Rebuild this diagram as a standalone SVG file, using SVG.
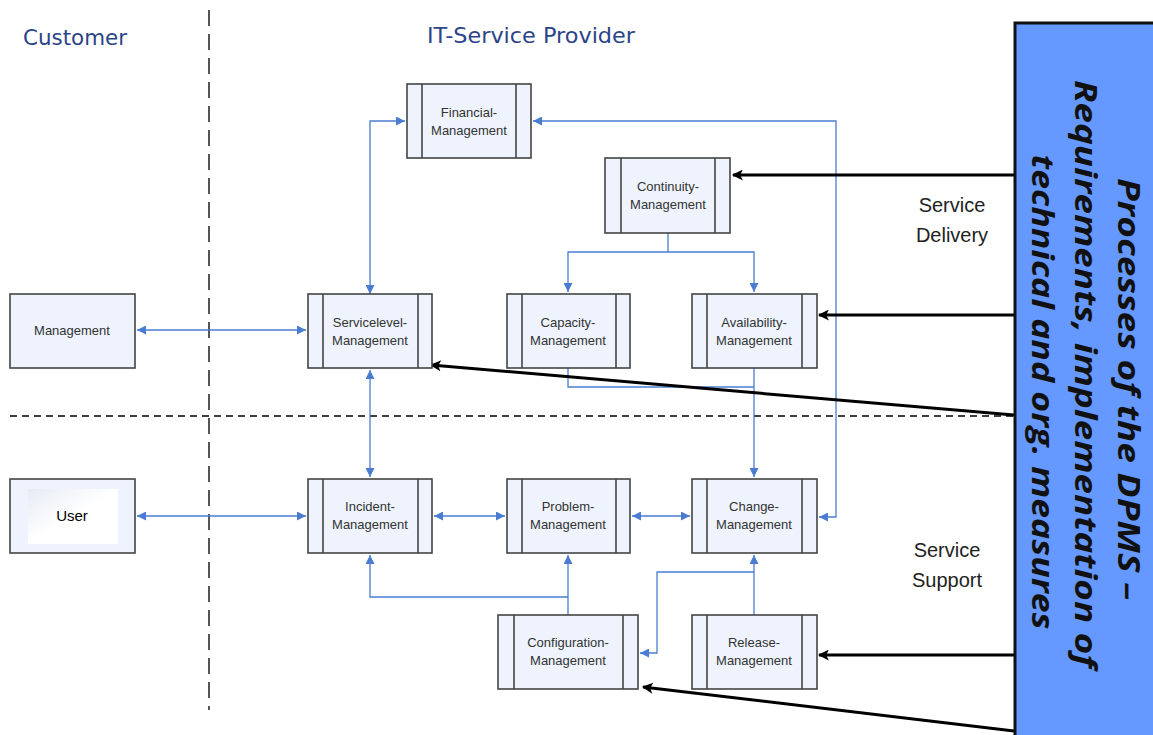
<svg xmlns="http://www.w3.org/2000/svg" width="1153" height="735" viewBox="0 0 1153 735">
  <defs>
    <marker id="blueArrow" viewBox="0 0 10 10" refX="10" refY="5" markerWidth="10" markerHeight="9" markerUnits="userSpaceOnUse" orient="auto-start-reverse">
      <path d="M0,0 L10,5 L0,10 z" fill="#4a7dd1"/>
    </marker>
    <marker id="blackArrow" viewBox="0 0 10 10" refX="9" refY="5" markerWidth="14" markerHeight="11" markerUnits="userSpaceOnUse" orient="auto">
      <path d="M0,0 L10,5 L0,10 L2.5,5 z" fill="#000"/>
    </marker>
    <linearGradient id="userFill" x1="0" y1="0" x2="1" y2="1">
      <stop offset="0" stop-color="#e6ebf4"/>
      <stop offset="0.5" stop-color="#ffffff"/>
      <stop offset="1" stop-color="#ffffff"/>
    </linearGradient>
  </defs>
  <style>
    .box { fill: #eef3fd; stroke: #444; stroke-width: 1.6; }
    .band { stroke: #444; stroke-width: 1.6; }
    .lbl { font-family: "Liberation Sans", Arial, sans-serif; font-size: 13px; fill: #333; text-anchor: middle; }
    .head { font-family: "DejaVu Sans", Verdana, sans-serif; font-size: 21px; fill: #2c4488; }
    .area { font-family: "Liberation Sans", Arial, sans-serif; font-size: 20px; fill: #222; text-anchor: middle; }
    .blue { fill: none; stroke: #4a7dd1; stroke-width: 1.3; }
    .black { fill: none; stroke: #000; stroke-width: 3; }
    .dpms { font-family: "Open Sans", "DejaVu Sans", sans-serif; font-size: 31px; font-weight: bold; font-style: italic; fill: #111; text-anchor: middle; }
  </style>

  <rect width="1153" height="735" fill="#ffffff"/>

  <!-- swimlane headings and separators -->
  <g id="lanes">
    <text class="head" x="23" y="45" textLength="104" lengthAdjust="spacingAndGlyphs">Customer</text>
    <text class="head" x="427" y="43" textLength="208" lengthAdjust="spacingAndGlyphs">IT-Service Provider</text>
    <line x1="209" y1="10" x2="209" y2="710" stroke="#555" stroke-width="2" stroke-dasharray="16 8"/>
    <line x1="10" y1="416" x2="1014" y2="416" stroke="#000" stroke-width="1.3" stroke-dasharray="7 5"/>
    <text class="area" x="952" y="212">Service</text>
    <text class="area" x="952" y="242">Delivery</text>
    <text class="area" x="947" y="557">Service</text>
    <text class="area" x="947" y="587">Support</text>
  </g>

  <!-- blue process connectors -->
  <g id="connectors">
    <path class="blue" d="M370,294 V121 H405" marker-start="url(#blueArrow)" marker-end="url(#blueArrow)"/>
    <path class="blue" d="M533,121 H836 V517 H819" marker-start="url(#blueArrow)" marker-end="url(#blueArrow)"/>
    <path class="blue" d="M668,233 V252"/>
    <path class="blue" d="M568,292 V252 H754 V292" marker-start="url(#blueArrow)" marker-end="url(#blueArrow)"/>
    <path class="blue" d="M568,368 V387 H754"/>
    <path class="blue" d="M754,368 V477" marker-end="url(#blueArrow)"/>
    <path class="blue" d="M137,330 H306" marker-start="url(#blueArrow)" marker-end="url(#blueArrow)"/>
    <path class="blue" d="M370,370 V477" marker-start="url(#blueArrow)" marker-end="url(#blueArrow)"/>
    <path class="blue" d="M137,516 H306" marker-start="url(#blueArrow)" marker-end="url(#blueArrow)"/>
    <path class="blue" d="M434,516 H505" marker-start="url(#blueArrow)" marker-end="url(#blueArrow)"/>
    <path class="blue" d="M632,516 H690" marker-start="url(#blueArrow)" marker-end="url(#blueArrow)"/>
    <path class="blue" d="M568,615 V555" marker-end="url(#blueArrow)"/>
    <path class="blue" d="M568,597 H370 V555" marker-end="url(#blueArrow)"/>
    <path class="blue" d="M754,615 V555" marker-end="url(#blueArrow)"/>
    <path class="blue" d="M754,572 H657 V653 H640" marker-end="url(#blueArrow)"/>
  </g>

  <!-- DPMS requirement arrows -->
  <g id="dpms-arrows">
    <path class="black" d="M1014,175 H733" marker-end="url(#blackArrow)"/>
    <path class="black" d="M1014,315 H819" marker-end="url(#blackArrow)"/>
    <path class="black" d="M1014,415 L431,365" marker-end="url(#blackArrow)"/>
    <path class="black" d="M1014,655 H819" marker-end="url(#blackArrow)"/>
    <path class="black" d="M1014,731 L643,687" marker-end="url(#blackArrow)"/>
  </g>

  <g id="financial">
    <rect class="box" x="407" y="84" width="124" height="74"/>
    <line class="band" x1="422" y1="84" x2="422" y2="158"/>
    <line class="band" x1="516" y1="84" x2="516" y2="158"/>
    <text class="lbl" x="469" y="117">Financial-</text>
    <text class="lbl" x="469" y="135">Management</text>
  </g>

  <g id="continuity">
    <rect class="box" x="605" y="158" width="125" height="75"/>
    <line class="band" x1="621" y1="158" x2="621" y2="233"/>
    <line class="band" x1="715" y1="158" x2="715" y2="233"/>
    <text class="lbl" x="668" y="191">Continuity-</text>
    <text class="lbl" x="668" y="209">Management</text>
  </g>

  <g id="management">
    <rect class="box" x="10" y="294" width="125" height="74"/>
    <text class="lbl" x="72" y="335">Management</text>
  </g>

  <g id="servicelevel">
    <rect class="box" x="308" y="294" width="124" height="74"/>
    <line class="band" x1="323" y1="294" x2="323" y2="368"/>
    <line class="band" x1="418" y1="294" x2="418" y2="368"/>
    <text class="lbl" x="370" y="327">Servicelevel-</text>
    <text class="lbl" x="370" y="345">Management</text>
  </g>

  <g id="capacity">
    <rect class="box" x="507" y="294" width="123" height="74"/>
    <line class="band" x1="522" y1="294" x2="522" y2="368"/>
    <line class="band" x1="616" y1="294" x2="616" y2="368"/>
    <text class="lbl" x="568" y="327">Capacity-</text>
    <text class="lbl" x="568" y="345">Management</text>
  </g>

  <g id="availability">
    <rect class="box" x="692" y="294" width="125" height="74"/>
    <line class="band" x1="707" y1="294" x2="707" y2="368"/>
    <line class="band" x1="802" y1="294" x2="802" y2="368"/>
    <text class="lbl" x="754" y="327">Availability-</text>
    <text class="lbl" x="754" y="345">Management</text>
  </g>

  <g id="user">
    <rect class="box" x="10" y="479" width="125" height="74"/>
    <rect x="28" y="489" width="90" height="55" fill="url(#userFill)"/>
    <text x="72" y="521" font-family="Liberation Sans, Arial, sans-serif" font-size="15" fill="#000" text-anchor="middle">User</text>
  </g>

  <g id="incident">
    <rect class="box" x="308" y="479" width="124" height="74"/>
    <line class="band" x1="323" y1="479" x2="323" y2="553"/>
    <line class="band" x1="418" y1="479" x2="418" y2="553"/>
    <text class="lbl" x="370" y="511">Incident-</text>
    <text class="lbl" x="370" y="529">Management</text>
  </g>

  <g id="problem">
    <rect class="box" x="507" y="479" width="123" height="74"/>
    <line class="band" x1="522" y1="479" x2="522" y2="553"/>
    <line class="band" x1="616" y1="479" x2="616" y2="553"/>
    <text class="lbl" x="568" y="511">Problem-</text>
    <text class="lbl" x="568" y="529">Management</text>
  </g>

  <g id="change">
    <rect class="box" x="692" y="479" width="125" height="74"/>
    <line class="band" x1="707" y1="479" x2="707" y2="553"/>
    <line class="band" x1="802" y1="479" x2="802" y2="553"/>
    <text class="lbl" x="754" y="511">Change-</text>
    <text class="lbl" x="754" y="529">Management</text>
  </g>

  <g id="configuration">
    <rect class="box" x="498" y="615" width="140" height="74"/>
    <line class="band" x1="514" y1="615" x2="514" y2="689"/>
    <line class="band" x1="623" y1="615" x2="623" y2="689"/>
    <text class="lbl" x="568" y="647">Configuration-</text>
    <text class="lbl" x="568" y="665">Management</text>
  </g>

  <g id="release">
    <rect class="box" x="692" y="615" width="125" height="74"/>
    <line class="band" x1="707" y1="615" x2="707" y2="689"/>
    <line class="band" x1="802" y1="615" x2="802" y2="689"/>
    <text class="lbl" x="754" y="647">Release-</text>
    <text class="lbl" x="754" y="665">Management</text>
  </g>

  <!-- DPMS panel with vertical caption -->
  <g id="dpms">
    <rect x="1015" y="23" width="145" height="720" fill="#6699ff" stroke="#111" stroke-width="3"/>
    <g transform="rotate(90)">
      <text class="dpms" x="389" y="-1118" textLength="422" lengthAdjust="spacingAndGlyphs">Processes of the DPMS –</text>
      <text class="dpms" x="374" y="-1075" textLength="588" lengthAdjust="spacingAndGlyphs">Requirements, implementation of</text>
      <text class="dpms" x="392" y="-1032" textLength="475" lengthAdjust="spacingAndGlyphs">technical and org. measures</text>
    </g>
  </g>
</svg>
